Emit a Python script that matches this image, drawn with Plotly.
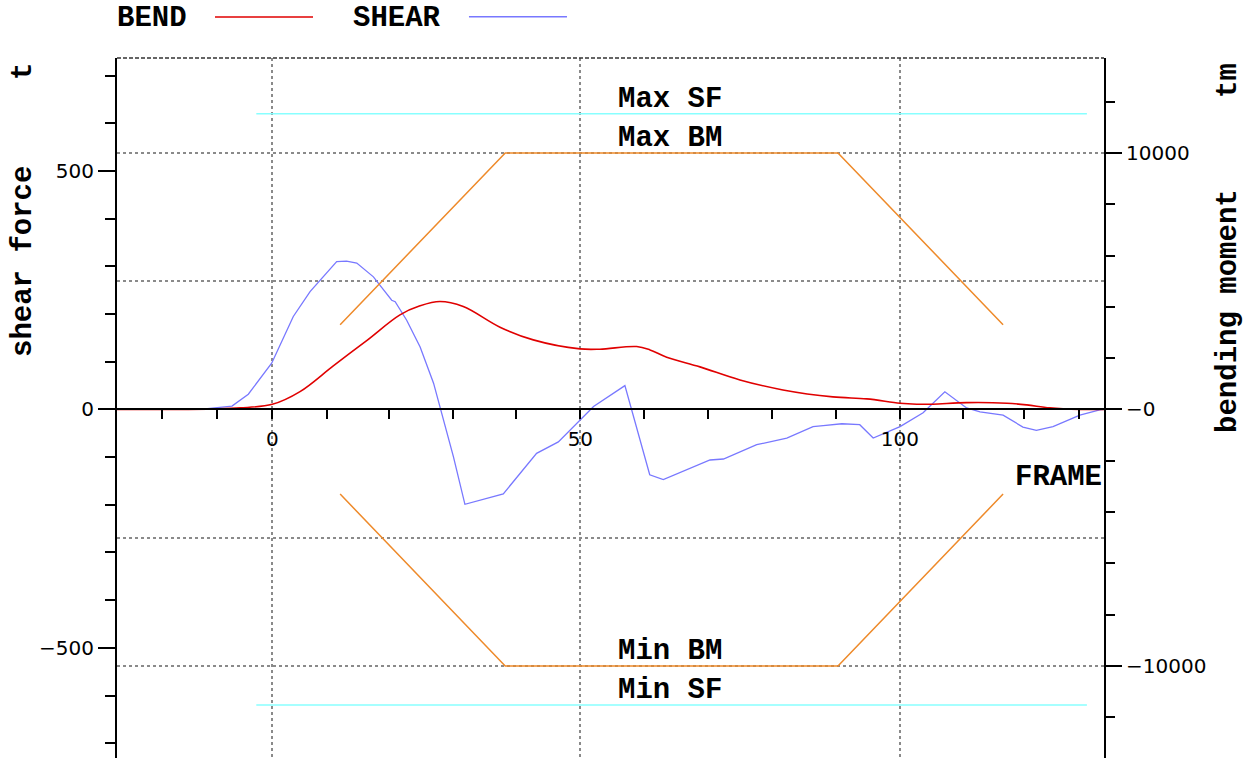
import plotly.graph_objects as go

# ---- frame scale: frame numbers and their position along the hull (m) ----
FRAME_NO = [-20, -10, 0, 10, 20, 30, 40, 50, 60, 70, 80, 90, 100, 110, 120, 130]
FRAME_POS = [-17.19, -8.64, 0.0, 8.5, 18.23, 28.19, 38.13, 48.14, 58.08, 68.03,
             78.03, 88.08, 98.08, 107.97, 117.47, 126.06]
LABELED_FRAMES = [0, 50, 100]

X_RANGE = [-24.27, 129.97]
SF_RANGE = [-731, 737]          # shear force, t
BM_RANGE = [-13590, 13700]      # bending moment, tm

# ---- bending moment curve (tm) ----
BEND_X = [-24.3, -15.0, -9.0, -5.0, 0.0, 4.33, 9.53, 14.75, 19.95, 23.08, 26.2, 29.84,
          35.58, 40.78, 48.08, 51.2, 56.94, 59.02, 61.63, 66.83, 73.08, 79.8, 87.6,
          92.9, 98.08, 100.7, 103.2, 108.5, 114.8, 117.9, 121.5, 126.2, 130.0]
BEND_TM = [0, 0, 20, 60, 199, 694, 1697, 2684, 3686, 4037, 4205, 4010,
           3206, 2711, 2360, 2348, 2450, 2320, 2036, 1658, 1150, 760, 488,
           410, 242, 203, 203, 265, 242, 176, 59, 0, 0]

# ---- shear force curve (t) ----
SHEAR_X = [-24.3, -11.3, -6.3, -3.75, -0.1, 3.28, 5.9, 10.06, 11.6, 13.2, 15.8, 18.66,
           19.2, 21.0, 23.1, 25.2, 28.3, 30.1, 36.1, 41.3, 44.7, 48.1, 50.2, 55.1,
           58.98, 61.1, 63.7, 68.4, 70.5, 75.7, 80.4, 84.5, 86.1, 89.0, 91.8, 93.9,
           98.1, 101.7, 105.1, 108.5, 110.6, 114.2, 117.3, 119.4, 122.0, 126.2,
           129.3, 129.97]
SHEAR_T = [0, 0, 7, 32, 97, 195, 247, 310, 311, 307, 278, 229,
           226, 187, 131, 55, -99, -199, -177, -92, -68, -22, 6, 50,
           -137, -147, -132, -106, -104, -74, -60, -36, -34, -30, -32, -60,
           -36, -7, 37, 3, -5, -12, -37, -44, -36, -12,
           -1, 0]

# ---- permissible limits ----
SF_LIMIT = 620
SF_LIMIT_X = [-2.5, 127.3]
BM_ENV_X = [10.6, 36.4, 88.4, 114.2]
BM_ENV_MAX = [3300, 10000, 10000, 3300]
BM_ENV_MIN = [-3300, -10000, -10000, -3300]

RED = "#e00000"
BLUE = "#7878ff"
ORANGE = "#ee8a2a"
CYAN = "#88ffff"
GRID = "#8a8a8a"
MONO = "Liberation Mono, Courier New, monospace"
NUM = "DejaVu Sans, sans-serif"
NUM_SIZE = 20

fig = go.Figure()

# shear-force limits (left axis)
for sign in (1, -1):
    fig.add_trace(go.Scatter(x=SF_LIMIT_X, y=[sign * SF_LIMIT] * 2, mode="lines",
                             line=dict(color=CYAN, width=1.5), xaxis="x2", yaxis="y",
                             hoverinfo="skip"))
fig.add_trace(go.Scatter(x=SHEAR_X, y=SHEAR_T, mode="lines", name="SHEAR",
                         line=dict(color=BLUE, width=1.3), yaxis="y"))

# bending-moment envelope (right axis)
for env in (BM_ENV_MAX, BM_ENV_MIN):
    fig.add_trace(go.Scatter(x=BM_ENV_X, y=env, mode="lines",
                             line=dict(color=ORANGE, width=1.5), yaxis="y3",
                             hoverinfo="skip"))
fig.add_trace(go.Scatter(x=BEND_X, y=BEND_TM, mode="lines", name="BEND",
                         line=dict(color=RED, width=1.6, shape="spline", smoothing=1.0),
                         yaxis="y2"))

zero_frac = (0 - SF_RANGE[0]) / (SF_RANGE[1] - SF_RANGE[0])
label_pos = [FRAME_POS[FRAME_NO.index(f)] for f in LABELED_FRAMES]

fig.update_layout(
    width=1254, height=758,
    margin=dict(l=117, r=150, t=58, b=0),
    paper_bgcolor="white", plot_bgcolor="white",
    showlegend=False,
    # frame axis line with a tick every ten frames
    xaxis=dict(
        range=X_RANGE, anchor="free", position=zero_frac,
        tickmode="array", tickvals=FRAME_POS, showticklabels=False,
        ticks="outside", ticklen=9, tickwidth=2, tickcolor="black",
        showline=True, linecolor="black", linewidth=2,
        showgrid=False, zeroline=False,
    ),
    # labelled frames with vertical grid
    xaxis2=dict(
        range=X_RANGE, overlaying="x", anchor="free", position=zero_frac, side="bottom",
        tickmode="array", tickvals=label_pos, ticktext=[str(f) for f in LABELED_FRAMES],
        ticks="", ticklabelstandoff=16,
        tickfont=dict(family=NUM, size=NUM_SIZE, color="black"),
        showline=False, zeroline=False,
        showgrid=True, gridcolor=GRID, griddash="dot", gridwidth=1.5,
    ),
    yaxis=dict(
        range=SF_RANGE, side="left",
        tickmode="array", tickvals=[-500, 0, 500], ticktext=["\u2212500", "0", "500"],
        ticks="outside", ticklen=17, tickwidth=2, tickcolor="black",
        tickfont=dict(family=NUM, size=NUM_SIZE, color="black"),
        showline=True, linecolor="black", linewidth=2,
        showgrid=False, zeroline=False,
        minor=dict(tick0=0, dtick=100, ticks="outside", ticklen=10, tickwidth=2,
                   tickcolor="black", showgrid=False),
    ),
    yaxis2=dict(
        range=BM_RANGE, overlaying="y", side="right", anchor="x",
        tickmode="array", tickvals=[-10000, 0, 10000],
        ticktext=["\u221210000", "\u22120", "10000"],
        ticks="outside", ticklen=16, tickwidth=2, tickcolor="black",
        tickfont=dict(family=NUM, size=NUM_SIZE, color="black"),
        showline=True, linecolor="black", linewidth=2,
        showgrid=False, zeroline=False,
        minor=dict(tick0=0, dtick=2000, ticks="outside", ticklen=9, tickwidth=2,
                   tickcolor="black", showgrid=False),
    ),
    yaxis3=dict(
        range=BM_RANGE, overlaying="y", side="right", anchor="x",
        tickmode="array", tickvals=[-10000, -5000, 5000, 10000],
        showticklabels=False, ticks="", showline=False, zeroline=False,
        showgrid=True, gridcolor=GRID, griddash="dot", gridwidth=1.5,
    ),
)

# dashed top frame
fig.add_shape(type="line", xref="paper", yref="paper", x0=0, x1=1, y0=1, y1=1,
              line=dict(color="#333333", width=1.5, dash="4px,2px"))

# legend: label followed by a line sample
fig.add_annotation(text="<b>BEND</b>", xref="paper", yref="paper", x=-0.002, y=1.0564,
                   xanchor="left", yanchor="middle", showarrow=False,
                   font=dict(family=MONO, size=29, color="black"))
fig.add_shape(type="line", xref="paper", yref="paper", x0=0.0993, x1=0.1986,
              y0=1.0586, y1=1.0586, line=dict(color=RED, width=1.6))
fig.add_annotation(text="<b>SHEAR</b>", xref="paper", yref="paper", x=0.2371, y=1.0564,
                   xanchor="left", yanchor="middle", showarrow=False,
                   font=dict(family=MONO, size=29, color="black"))
fig.add_shape(type="line", xref="paper", yref="paper", x0=0.3566, x1=0.4559,
              y0=1.059, y1=1.059, line=dict(color=BLUE, width=1.6))

# axis titles
title_font = dict(family=MONO, size=29, color="black")
for txt, x, y in [("shear force", -0.0942, 0.7086), ("t", -0.0952, 0.98),
                  ("bending moment", 1.1266, 0.6386), ("tm", 1.1266, 0.9686)]:
    fig.add_annotation(text=f"<b>{txt}</b>", xref="paper", yref="paper", x=x, y=y,
                       xanchor="center", yanchor="middle", textangle=-90,
                       showarrow=False, font=title_font)

# limit labels
LABEL_X = 62.1
for txt, yref, val in [("Max SF", "y", SF_LIMIT), ("Max BM", "y2", max(BM_ENV_MAX)),
                       ("Min BM", "y2", min(BM_ENV_MIN)), ("Min SF", "y", -SF_LIMIT)]:
    fig.add_annotation(text=f"<b>{txt}</b>", x=LABEL_X, y=val, xref="x", yref=yref,
                       xanchor="center", yanchor="bottom", yshift=-4, showarrow=False,
                       font=title_font)

fig.add_annotation(text="<b>FRAME</b>", xref="paper", yref="paper", x=1.0, y=0.4014,
                   xanchor="right", yanchor="middle", showarrow=False, font=title_font)

fig.write_html("out.html")
